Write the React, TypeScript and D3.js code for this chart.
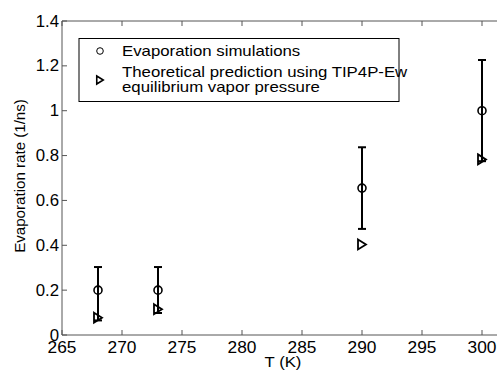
import React from "react";
import * as d3 from "d3";

const temps = [268, 273, 290, 300];
const simRate = [0.2, 0.2, 0.655, 1.0];
const errLow = [0.065, 0.098, 0.473, 0.775];
const errHigh = [0.303, 0.303, 0.837, 1.226];
const theoryRate = [0.077, 0.115, 0.404, 0.783];
const xTicks = [265, 270, 275, 280, 285, 290, 295, 300];
const yTicks = [0, 0.2, 0.4, 0.6, 0.8, 1, 1.2, 1.4];
const legendLines = [
  "Evaporation simulations",
  "Theoretical prediction using TIP4P-Ew",
  "equilibrium vapor pressure",
];

const W = 497;
const H = 372;
const left = 62;
const top = 21;
const bottom = 335;

const FONT = "'Liberation Sans', Arial, sans-serif";

function Txt(props: {
  x: number;
  y: number;
  size: number;
  sx?: number;
  anchor?: string;
  rotate?: number;
  children: React.ReactNode;
}) {
  const { x, y, size, sx = 1, anchor = "start", rotate = 0, children } = props;
  return (
    <text
      transform={`translate(${x},${y}) rotate(${rotate}) scale(${sx},1)`}
      fontSize={size}
      fontFamily={FONT}
      textAnchor={anchor}
      fill="#000"
    >
      {children}
    </text>
  );
}

function triPath(cx: number, cy: number, w: number, h: number) {
  return `M${cx - w / 2},${cy - h / 2}L${cx + w / 2},${cy}L${cx - w / 2},${cy + h / 2}Z`;
}

export default function App() {
  const x = d3.scaleLinear().domain([265, 300]).range([left, 482]);
  const y = d3.scaleLinear().domain([0, 1.4]).range([bottom, top]);
  const axisColor = "#555";

  return (
    <svg
      width={W}
      height={H}
      style={{ position: "absolute", left: 0, top: 0, background: "#fff" }}
    >
      <rect x={0} y={0} width={W} height={H} fill="#fff" />
      {/* axes */}
      <line x1={left} y1={top} x2={left} y2={bottom} stroke={axisColor} strokeWidth={1} />
      <line x1={left} y1={bottom} x2={W} y2={bottom} stroke={axisColor} strokeWidth={1} />
      <line x1={left} y1={top} x2={W} y2={top} stroke={axisColor} strokeWidth={1} />
      {xTicks.map((t) => (
        <g key={"xt" + t}>
          <line x1={x(t)} x2={x(t)} y1={bottom} y2={bottom - 5} stroke={axisColor} />
          <line x1={x(t)} x2={x(t)} y1={top} y2={top + 5} stroke={axisColor} />
          <Txt x={x(t)} y={352.5} size={16.5} sx={1.05} anchor="middle">
            {String(t)}
          </Txt>
        </g>
      ))}
      {yTicks.map((t) => (
        <g key={"yt" + t}>
          <line x1={left} x2={left + 5} y1={y(t)} y2={y(t)} stroke={axisColor} />
          <Txt x={59} y={y(t) + 5.5} size={16} sx={1.05} anchor="end">
            {d3.format("~g")(t)}
          </Txt>
        </g>
      ))}
      <Txt x={283} y={367} size={15.5} sx={1.08} anchor="middle">
        T (K)
      </Txt>
      <Txt x={25} y={176} size={14} sx={1.08} anchor="middle" rotate={-90}>
        Evaporation rate (1/ns)
      </Txt>

      {/* error bars */}
      {temps.map((t, i) => (
        <g key={"eb" + t} stroke="#000" strokeWidth={2}>
          <line x1={x(t)} x2={x(t)} y1={y(errLow[i])} y2={y(errHigh[i])} />
          <line x1={x(t) - 4} x2={x(t) + 4} y1={y(errHigh[i])} y2={y(errHigh[i])} />
          <line x1={x(t) - 4} x2={x(t) + 4} y1={y(errLow[i])} y2={y(errLow[i])} />
        </g>
      ))}
      {temps.map((t, i) => (
        <circle
          key={"c" + t}
          cx={x(t)}
          cy={y(simRate[i])}
          r={4}
          fill="none"
          stroke="#000"
          strokeWidth={1.6}
        />
      ))}
      {temps.map((t, i) => (
        <path
          key={"tr" + t}
          d={triPath(x(t), y(theoryRate[i]), 8, 10)}
          fill="none"
          stroke="#000"
          strokeWidth={1.8}
          strokeLinejoin="miter"
        />
      ))}

      {/* legend */}
      <rect x={79} y={38.5} width={320} height={63} fill="#fff" stroke="#000" strokeWidth={1} />
      <circle cx={100} cy={51} r={3.3} fill="none" stroke="#000" strokeWidth={1} />
      <path d={triPath(100, 80, 6.5, 8)} fill="none" stroke="#000" strokeWidth={1.6} />
      <Txt x={122} y={56} size={14} sx={1.2}>
        {legendLines[0]}
      </Txt>
      <Txt x={122} y={77} size={14} sx={1.2}>
        {legendLines[1]}
      </Txt>
      <Txt x={122} y={91.5} size={14} sx={1.2}>
        {legendLines[2]}
      </Txt>
    </svg>
  );
}
